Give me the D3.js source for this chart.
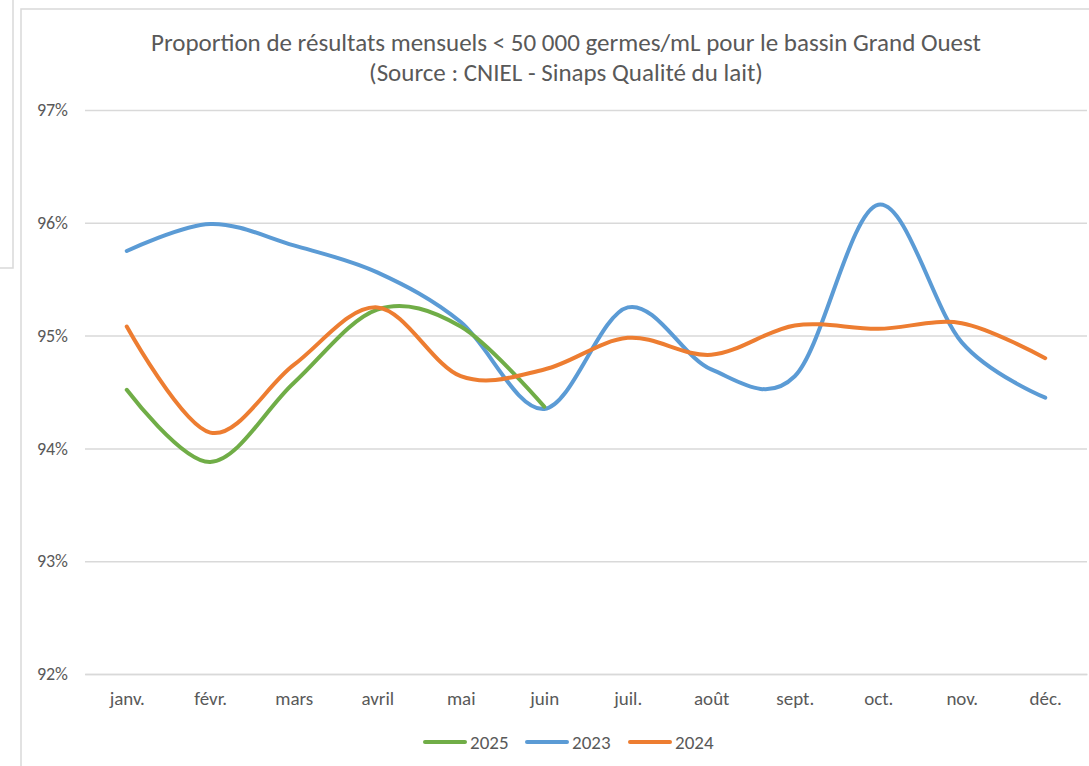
<!DOCTYPE html>
<html>
<head>
<meta charset="utf-8">
<script src="https://cdn.jsdelivr.net/npm/d3@7"></script>
<style>
  body { margin: 0; background: #fff; }
  text { font-family: Calibri, Carlito, "Open Sans", "Noto Sans", sans-serif; fill: #595959; }
</style>
</head>
<body>
<script>
//month categories
var months = ["janv.", "févr.", "mars", "avril", "mai", "juin", "juil.", "août", "sept.", "oct.", "nov.", "déc."];

//series values (proportion of results < 50 000 germs/mL)
var values2025 = [0.9452, 0.9388, 0.9458, 0.9523, 0.9508, 0.9437];
var values2023 = [0.9575, 0.9599, 0.9580, 0.9556, 0.9512, 0.9435, 0.9525, 0.9470, 0.9464, 0.9616, 0.9494, 0.9445];
var values2024 = [0.9508, 0.9414, 0.9474, 0.9525, 0.9464, 0.9470, 0.9498, 0.9483, 0.9509, 0.9506, 0.9511, 0.9480];

//y tick values
var yTicks = [0.92, 0.93, 0.94, 0.95, 0.96, 0.97];

var seriesNames = ["2025", "2023", "2024"];
var seriesData = [values2025, values2023, values2024];
var colors = ["#70AD47", "#5B9BD5", "#ED7D31"];

var w = 1089, h = 766;

var svg = d3.select("body")
    .append("svg")
    .attr("width", w)
    .attr("height", h);

//leftover panel borders from the spreadsheet
svg.append("path")
    .attr("d", "M13,0V268H0")
    .style("fill", "none")
    .style("stroke", "#d9d9d9")
    .style("stroke-width", 1.5);

svg.append("path")
    .attr("d", "M21,766V9H1089")
    .style("fill", "none")
    .style("stroke", "#d9d9d9")
    .style("stroke-width", 1.5);

//scales
var x = d3.scalePoint()
    .domain(months)
    .range([85, 1087])
    .padding(0.5);

var y = d3.scaleLinear()
    .domain([0.92, 0.97])
    .range([674, 110]);

//y axis with gridlines
var yAxis = d3.axisLeft(y)
    .tickValues(yTicks)
    .tickFormat(d3.format(".0%"))
    .tickSize(-(1087 - 85))
    .tickPadding(17);

var gy = svg.append("g")
    .attr("transform", "translate(85,0)")
    .call(yAxis);
gy.select(".domain").remove();
gy.selectAll(".tick line")
    .style("stroke", "#d9d9d9")
    .style("stroke-width", 1.5);
gy.selectAll(".tick text")
    .style("font-size", "18px")
    .style("font-family", null)
    .attr("fill", null);

//x axis labels
var xAxis = d3.axisBottom(x)
    .tickSize(0)
    .tickPadding(18);
var gx = svg.append("g")
    .attr("transform", "translate(0,674)")
    .call(xAxis);
gx.select(".domain")
    .style("stroke", "#d9d9d9")
    .style("stroke-width", 1.5);
gx.selectAll(".tick text")
    .style("font-size", "19px")
    .style("font-family", null)
    .attr("fill", null);

//lines
var line = d3.line()
    .x(function(d, i){ return x(months[i]); })
    .y(function(d){ return y(d); })
    .curve(d3.curveCardinal.tension(0));

//draw in order so orange sits on top, like the source
var drawOrder = [1, 0, 2];
drawOrder.forEach(function(k){
    svg.append("path")
        .datum(seriesData[k])
        .attr("d", line)
        .style("fill", "none")
        .style("stroke", colors[k])
        .style("stroke-width", 4)
        .style("stroke-linecap", "round")
        .style("stroke-linejoin", "round");
});

//title
var title = svg.append("text")
    .attr("text-anchor", "middle")
    .attr("x", 566)
    .attr("y", 51)
    .style("font-size", "25px");
title.append("tspan")
    .attr("x", 566)
    .text("Proportion de résultats mensuels < 50 000 germes/mL pour le bassin Grand Ouest");
title.append("tspan")
    .attr("x", 566)
    .attr("dy", 30)
    .text("(Source : CNIEL - Sinaps Qualité du lait)");

//legend
var legendX = [425, 527, 630];
var legend = svg.selectAll(".legend")
    .data(seriesNames)
    .enter()
    .append("g")
    .attr("class", "legend")
    .attr("transform", function(d, i){ return "translate(" + legendX[i] + ",742)"; });

legend.append("line")
    .attr("x1", 0)
    .attr("x2", 40)
    .style("stroke", function(d, i){ return colors[i]; })
    .style("stroke-width", 4)
    .style("stroke-linecap", "round");

legend.append("text")
    .attr("x", 45)
    .attr("y", 7)
    .style("font-size", "19px")
    .text(function(d){ return d; });
</script>
</body>
</html>
